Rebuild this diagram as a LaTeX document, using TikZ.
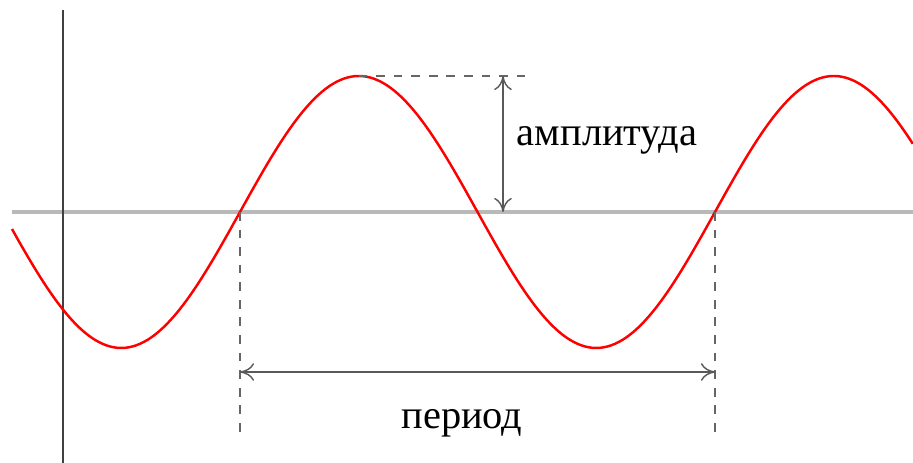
\documentclass[tikz,border=0pt]{standalone}
\usepackage{fontspec}
\setmainfont{Liberation Serif}
\usepackage{tikz}
\usetikzlibrary{arrows.meta,positioning,calc}

\begin{document}
\begin{tikzpicture}[
    axis/.style={draw=gray!55, line width=0.9pt},
    yaxis/.style={draw=black!75, line width=0.4pt},
    wave/.style={draw=red, line width=0.7pt},
    guide/.style={draw=black!60, dashed, line width=0.35pt, dash pattern=on 2.5pt off 2.5pt},
    dim/.style={draw=black!65, line width=0.4pt, {To[length=4pt,width=5pt]}-{To[length=4pt,width=5pt]}},
    label/.style={font=\fontsize{11.5}{14}\selectfont, anchor=base}
]
    \useasboundingbox (0,0) rectangle (9.13,4.63);

    % Axes
    \coordinate (axl) at (0.12,2.51);
    \coordinate (axr) at (9.13,2.51);
    \coordinate (ayt) at (0.63,4.53);
    \coordinate (ayb) at (0.63,0);
    \path [axis] (axl) -- (axr);
    \path [yaxis] (ayt) -- (ayb);

    % Sine wave
    \path [wave] plot [domain=0.12:9.13, samples=240, smooth]
        (\x, {2.51+1.36*sin(360*(\x-2.40)/4.75)});

    % Key points
    \coordinate (peak) at (3.585,3.87);
    \coordinate (zeroA) at (2.40,2.51);
    \coordinate (zeroB) at (7.15,2.51);
    \coordinate (peakend) at (5.25,3.87);
    \coordinate (ampTop) at (5.03,3.87);
    \coordinate (ampBot) at (5.03,2.51);
    \coordinate (footA) at (2.40,0.28);
    \coordinate (footB) at (7.15,0.28);
    \coordinate (perA) at (2.40,0.91);
    \coordinate (perB) at (7.15,0.91);

    % Guides
    \path [guide] (peak) -- (peakend);
    \path [guide] (zeroA) -- (footA);
    \path [guide] (zeroB) -- (footB);

    % Dimensions
    \path [dim] (ampTop) -- (ampBot);
    \path [dim] (perA) -- (perB);

    % Labels
    \node [label] (amp) at (6.07,3.17) {амплитуда};
    \node [label] (per) at (4.62,0.34) {период};
\end{tikzpicture}
\end{document}
